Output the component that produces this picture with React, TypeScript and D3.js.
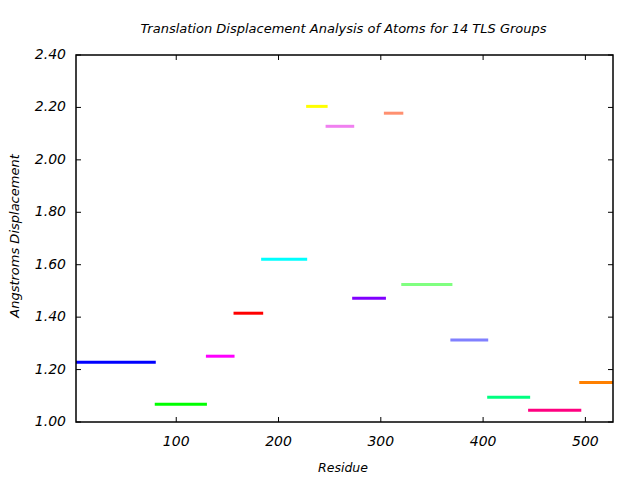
import React from "react";
import * as d3 from "d3";

const groupStart = [2, 79, 129, 156, 183, 227, 246, 272, 303, 320, 368, 404, 444, 494];
const groupEnd = [80, 130, 157, 185, 228, 248, 274, 305, 322, 370, 405, 446, 496, 527];
const groupValue = [1.228, 1.068, 1.251, 1.415, 1.621, 2.204, 2.128, 1.472, 2.178, 1.525, 1.313, 1.094, 1.045, 1.151];
const groupColor = ["#0000ff", "#00ff00", "#ff00ff", "#ff0000", "#00ffff", "#ffff00", "#f080f0", "#8000ff", "#ff9070", "#80ff80", "#8080ff", "#00ff80", "#ff0080", "#ff8000"];
const xTicks = [100, 200, 300, 400, 500];
const yTicks = [1.0, 1.2, 1.4, 1.6, 1.8, 2.0, 2.2, 2.4];

const W = 640, H = 480;
const L = 76, R = 613, T = 55, B = 422;
const font = "'DejaVu Sans', sans-serif";

export default function App() {
  const x = d3.scaleLinear().domain([2, 527]).range([L, R]);
  const y = d3.scaleLinear().domain([1.0, 2.4]).range([B, T]);
  return (
    <svg width={W} height={H} style={{ position: "absolute", left: 0, top: 0, background: "#fff" }} fontFamily={font} fontStyle="italic">
      <rect x={0} y={0} width={W} height={H} fill="#fff" />
      <text x={343.5} y={33} textAnchor="middle" fontSize={13} fill="#000">Translation Displacement Analysis of Atoms for 14 TLS Groups</text>
      {groupValue.map((v, i) => (
        <line key={i} x1={x(groupStart[i])} x2={x(groupEnd[i])} y1={y(v)} y2={y(v)} stroke={groupColor[i]} strokeWidth={3} />
      ))}
      <rect x={L} y={T} width={R - L} height={B - T} fill="none" stroke="#000" strokeWidth={1.5} />
      {xTicks.map((t) => (
        <g key={t}>
          <line x1={x(t)} x2={x(t)} y1={B} y2={B - 5} stroke="#000" strokeWidth={1} />
          <line x1={x(t)} x2={x(t)} y1={T} y2={T + 5} stroke="#000" strokeWidth={1} />
          <text x={x(t)} y={446} textAnchor="middle" fontSize={14} fill="#000">{t}</text>
        </g>
      ))}
      {yTicks.map((t) => (
        <g key={t}>
          <line x1={L} x2={L + 5} y1={y(t)} y2={y(t)} stroke="#000" strokeWidth={1} />
          <line x1={R} x2={R - 5} y1={y(t)} y2={y(t)} stroke="#000" strokeWidth={1} />
          <text x={66} y={y(t) + 4} textAnchor="end" fontSize={14} fill="#000">{t.toFixed(2)}</text>
        </g>
      ))}
      <text x={343} y={472} textAnchor="middle" fontSize={12.5} fill="#000">Residue</text>
      <text transform={`translate(19,236) rotate(-90)`} textAnchor="middle" fontSize={13} fill="#000">Angstroms Displacement</text>
    </svg>
  );
}
